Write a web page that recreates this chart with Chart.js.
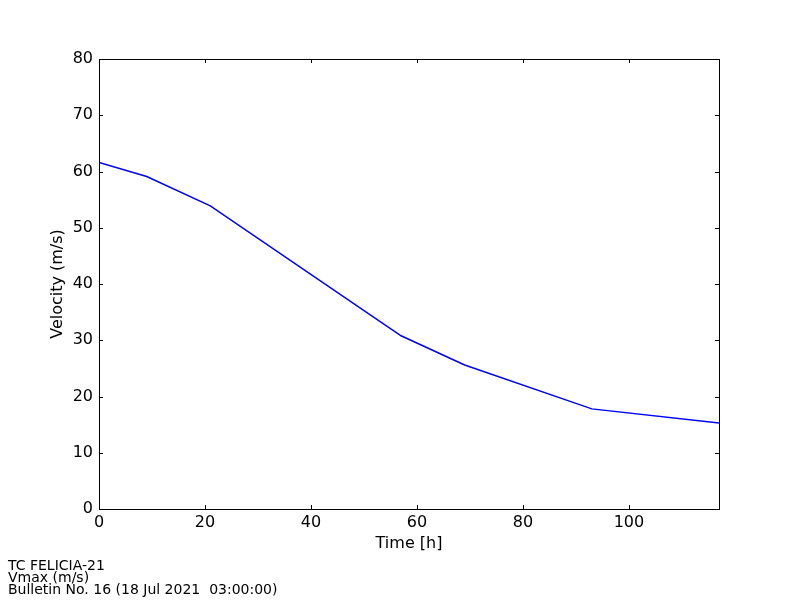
<!DOCTYPE html>
<html>
<head>
<meta charset="utf-8">
<script src="https://cdn.jsdelivr.net/npm/chart.js@4/dist/chart.umd.min.js"></script>
<style>
  html, body { margin: 0; padding: 0; background: #fff; }
  #wrap { position: relative; width: 800px; height: 600px; }
</style>
</head>
<body>
<div id="wrap"><canvas id="vmaxChart" width="800" height="600"></canvas></div>
<script>
// forecast hours and max wind speed
const hours = [0, 9, 21, 57, 69, 93, 117];
const vmax = [61.6, 59.1, 53.9, 30.8, 25.6, 17.8, 15.3];
const xTicks = [0, 20, 40, 60, 80, 100];
const yTicks = [0, 10, 20, 30, 40, 50, 60, 70, 80];
const footLines = ['TC FELICIA-21', 'Vmax (m/s)', 'Bulletin No. 16 (18 Jul 2021  03:00:00)'];

const FONT = 'DejaVu Sans';

// matplotlib style: box frame + inward ticks on all four sides
const frameTicks = {
    id: 'frameTicks',
    afterDatasetsDraw(chart) {
        const { ctx, chartArea: a, scales } = chart;
        const len = 4;
        ctx.save();
        ctx.strokeStyle = '#000';
        ctx.lineWidth = 1;
        ctx.beginPath();
        xTicks.forEach(v => {
            const x = Math.round(scales.x.getPixelForValue(v)) + 0.5;
            ctx.moveTo(x, a.bottom); ctx.lineTo(x, a.bottom - len);
            ctx.moveTo(x, a.top); ctx.lineTo(x, a.top + len);
        });
        yTicks.forEach(v => {
            const y = Math.round(scales.y.getPixelForValue(v)) + 0.5;
            ctx.moveTo(a.left, y); ctx.lineTo(a.left + len, y);
            ctx.moveTo(a.right, y); ctx.lineTo(a.right - len, y);
        });
        ctx.stroke();
        ctx.strokeRect(Math.round(a.left) + 0.5, Math.round(a.top) + 0.5,
            Math.round(a.right - a.left), Math.round(a.bottom - a.top));
        ctx.restore();
    },
    afterDraw(chart) {
        const ctx = chart.ctx;
        ctx.save();
        ctx.fillStyle = '#000';
        ctx.font = '14px "' + FONT + '"';
        ctx.textBaseline = 'middle';
        footLines.forEach((t, i) => ctx.fillText(t, 8, 566 + i * 12));
        ctx.restore();
    }
};

const ctx = document.getElementById('vmaxChart').getContext('2d');
const myChart = new Chart(ctx, {
    type: 'line',
    data: {
        datasets: [{
            label: 'Vmax',
            data: hours.map((h, i) => ({ x: h, y: vmax[i] })),
            borderColor: '#0000ff',
            borderWidth: 1.5,
            pointRadius: 0,
            fill: false,
            tension: 0
        }]
    },
    options: {
        responsive: false,
        animation: false,
        layout: { padding: { top: 59, right: 81, left: 0, bottom: 0 } },
        plugins: { legend: { display: false }, tooltip: { enabled: false } },
        scales: {
            x: {
                type: 'linear',
                min: 0,
                max: 117,
                afterFit: s => { s.height = 91; },
                afterBuildTicks: s => { s.ticks = xTicks.map(v => ({ value: v })); },
                grid: { display: false, drawTicks: false },
                border: { display: false },
                ticks: { color: '#000', padding: 4, font: { family: FONT, size: 16 } },
                title: { display: true, text: 'Time [h]', color: '#000', font: { family: FONT, size: 16 }, padding: { top: 0, bottom: 47 } }
            },
            y: {
                min: 0,
                max: 80,
                afterFit: s => { s.width = 99; },
                afterBuildTicks: s => { s.ticks = yTicks.map(v => ({ value: v })); },
                grid: { display: false, drawTicks: false },
                border: { display: false },
                ticks: { color: '#000', padding: 6, font: { family: FONT, size: 16 } },
                title: { display: true, text: 'Velocity (m/s)', color: '#000', font: { family: FONT, size: 16 }, padding: { top: 48, bottom: 0 } }
            }
        }
    },
    plugins: [frameTicks]
});
</script>
</body>
</html>
